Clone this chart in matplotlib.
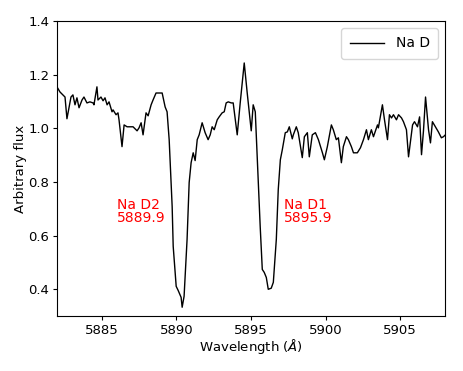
import matplotlib
matplotlib.use("Agg")
import matplotlib.pyplot as plt

# Na D region, wavelength (A) and normalised flux
wavelength = [
    5882.00, 5882.20, 5882.54, 5882.67, 5882.94, 5883.07, 5883.21, 5883.34, 5883.48, 5883.68,
    5883.81, 5884.01, 5884.21, 5884.42, 5884.48, 5884.68, 5884.75, 5884.95, 5885.09, 5885.22,
    5885.36, 5885.49, 5885.69, 5885.76, 5885.96, 5886.09, 5886.16, 5886.36, 5886.50, 5886.70,
    5886.90, 5887.10, 5887.37, 5887.50, 5887.64, 5887.77, 5887.97, 5888.11, 5888.31, 5888.44,
    5888.64, 5888.85, 5889.05, 5889.25, 5889.38, 5889.52, 5889.72, 5889.79, 5889.99, 5890.12,
    5890.32, 5890.39, 5890.52, 5890.72, 5890.86, 5890.99, 5891.13, 5891.26, 5891.40, 5891.53,
    5891.73, 5891.93, 5892.13, 5892.27, 5892.40, 5892.54, 5892.74, 5892.87, 5893.07, 5893.21,
    5893.34, 5893.48, 5893.68, 5893.81, 5894.08, 5894.28, 5894.55, 5894.75, 5895.02, 5895.15,
    5895.29, 5895.42, 5895.62, 5895.76, 5895.89, 5896.03, 5896.16, 5896.36, 5896.50, 5896.70,
    5896.83, 5896.97, 5897.10, 5897.30, 5897.44, 5897.57, 5897.77, 5897.84, 5898.04, 5898.17,
    5898.44, 5898.58, 5898.78, 5898.91, 5899.11, 5899.32, 5899.52, 5899.79, 5899.92, 5900.12,
    5900.39, 5900.52, 5900.72, 5900.86, 5901.06, 5901.19, 5901.40, 5901.53, 5901.73, 5901.87,
    5902.13, 5902.34, 5902.54, 5902.74, 5902.87, 5903.07, 5903.21, 5903.48, 5903.54, 5903.81,
    5903.95, 5904.15, 5904.28, 5904.42, 5904.55, 5904.75, 5904.89, 5905.09, 5905.22, 5905.42,
    5905.56, 5905.83, 5905.96, 5906.16, 5906.30, 5906.43, 5906.56, 5906.70, 5906.90, 5907.03,
    5907.16, 5907.36, 5907.56, 5907.76, 5907.90, 5908.03,
]
flux = [
    1.155, 1.136, 1.117, 1.036, 1.117, 1.125, 1.088, 1.114, 1.077, 1.106,
    1.117, 1.095, 1.099, 1.095, 1.088, 1.155, 1.106, 1.117, 1.103, 1.114,
    1.088, 1.099, 1.062, 1.069, 1.051, 1.058, 1.032, 0.932, 1.013, 1.006,
    1.006, 1.006, 0.991, 1.002, 1.021, 0.976, 1.058, 1.047, 1.088, 1.106,
    1.132, 1.132, 1.132, 1.080, 1.062, 0.958, 0.709, 0.560, 0.411, 0.396,
    0.370, 0.333, 0.374, 0.586, 0.798, 0.872, 0.909, 0.880, 0.958, 0.976,
    1.021, 0.984, 0.958, 0.976, 1.006, 0.995, 1.032, 1.043, 1.058, 1.062,
    1.095, 1.099, 1.095, 1.095, 0.976, 1.095, 1.244, 1.132, 0.991, 1.088,
    1.062, 0.894, 0.634, 0.474, 0.463, 0.444, 0.400, 0.404, 0.426, 0.586,
    0.772, 0.883, 0.920, 0.984, 0.987, 1.006, 0.961, 0.976, 1.006, 0.984,
    0.891, 0.969, 0.984, 0.894, 0.976, 0.984, 0.958, 0.909, 0.883, 0.932,
    1.013, 0.995, 0.958, 0.965, 0.872, 0.932, 0.969, 0.958, 0.932, 0.909,
    0.909, 0.928, 0.958, 0.995, 0.958, 0.995, 0.969, 1.013, 1.002, 1.088,
    1.032, 0.958, 1.051, 1.039, 1.051, 1.032, 1.051, 1.039, 1.025, 0.995,
    0.894, 1.013, 1.025, 1.006, 1.043, 0.902, 0.990, 1.117, 0.995, 0.946,
    1.025, 1.006, 0.987, 0.965, 0.969, 0.976,
]

line_labels = ["Na D2\n5889.9", "Na D1\n5895.9"]
label_x = [5886.0, 5897.2]
label_y = [0.65, 0.65]

fig, ax = plt.subplots(figsize=(4.63, 3.71), dpi=100)
fig.subplots_adjust(left=0.123, right=0.961, top=0.943, bottom=0.148)

ax.plot(wavelength, flux, color="black", linewidth=1.0, label="Na D")
for lx, ly, txt in zip(label_x, label_y, line_labels):
    ax.text(lx, ly, txt, color="red", fontsize=10, linespacing=0.95)

ax.set_xlim(5882, 5908)
ax.set_ylim(0.3, 1.4)
ax.set_xticks([5885, 5890, 5895, 5900, 5905])
ax.set_yticks([0.4, 0.6, 0.8, 1.0, 1.2, 1.4])
ax.tick_params(labelsize=9.5, length=3, pad=2.5)
ax.set_xlabel(r"Wavelength ($\AA$)", fontsize=9.5, labelpad=0.5)
ax.set_ylabel("Arbitrary flux", fontsize=9.5, labelpad=1)
ax.legend(loc="upper right", fontsize=10, handlelength=2.5, borderpad=0.6)

plt.savefig("out.png", dpi=100)
